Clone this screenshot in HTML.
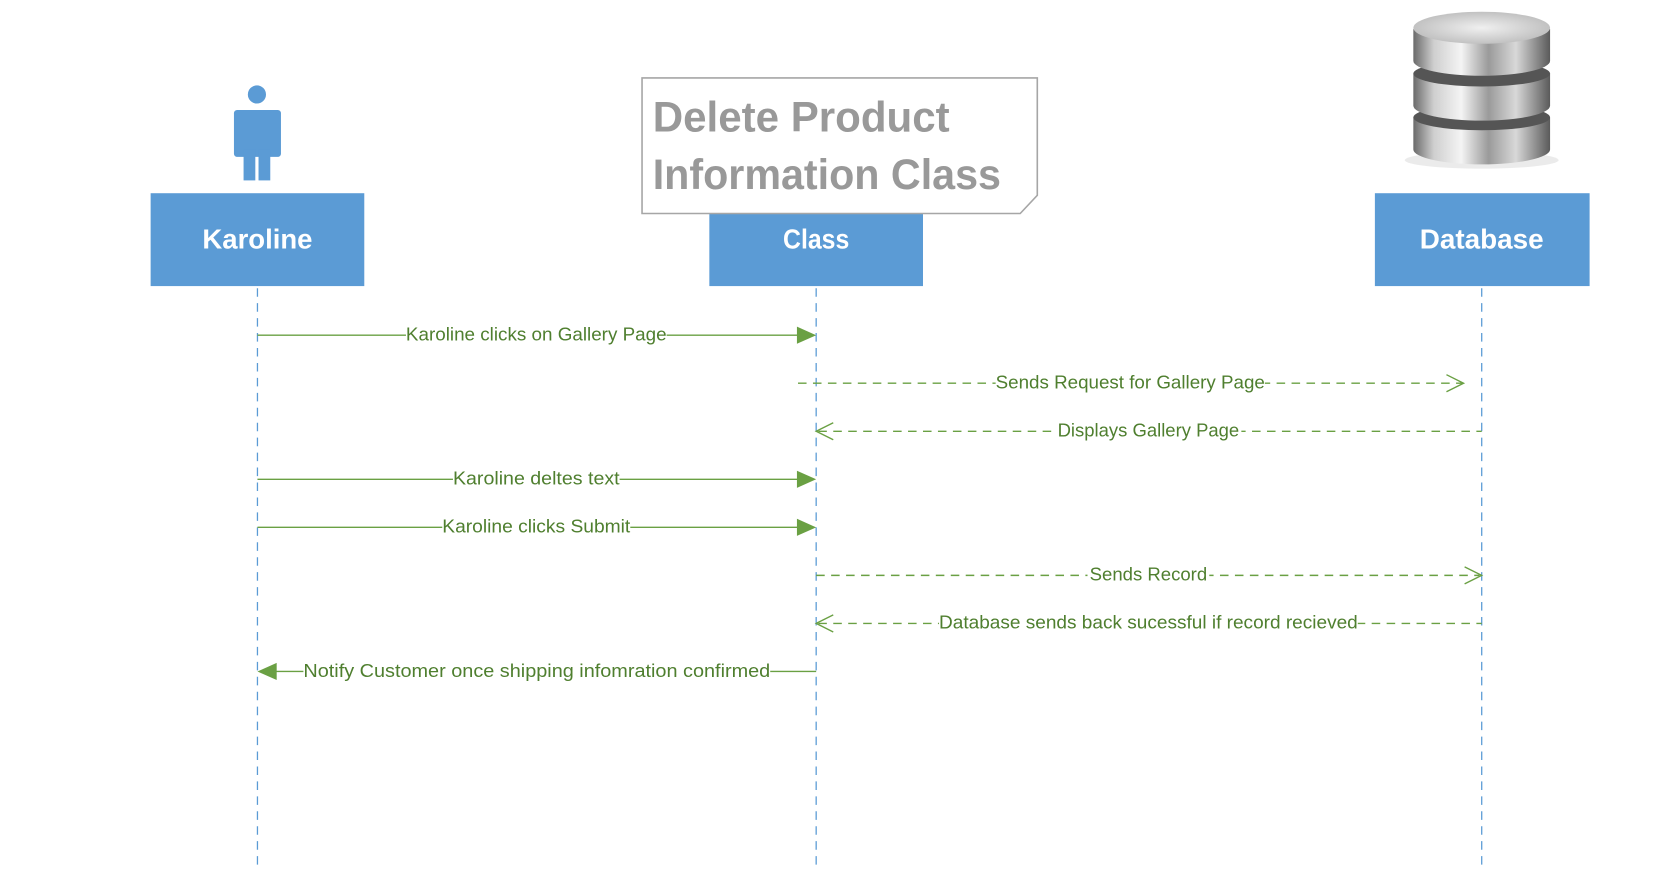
<!DOCTYPE html>
<html><head><meta charset="utf-8"><style>html,body{margin:0;padding:0;background:#fff;overflow:hidden}svg{display:block}</style></head><body>
<svg width="1674" height="870" viewBox="0 0 1567 815" preserveAspectRatio="none" xmlns="http://www.w3.org/2000/svg" font-family="Liberation Sans, sans-serif">
<defs>
<linearGradient id="cyl" x1="0" x2="1" y1="0" y2="0">
<stop offset="0" stop-color="#6a6a6a"/><stop offset="0.15" stop-color="#cfcfcf"/><stop offset="0.35" stop-color="#f4f4f4"/><stop offset="0.55" stop-color="#9a9a9a"/><stop offset="0.75" stop-color="#d8d8d8"/><stop offset="1" stop-color="#5a5a5a"/>
</linearGradient>
<radialGradient id="top" cx="0.5" cy="0.5" r="0.6"><stop offset="0" stop-color="#f0f0f0"/><stop offset="1" stop-color="#b8b8b8"/></radialGradient>
</defs>
<g stroke="#5b9bd5" stroke-width="1.2" stroke-dasharray="8,6">
<line x1="241" y1="270" x2="241" y2="815"/><line x1="764" y1="270" x2="764" y2="815"/><line x1="1387" y1="270" x2="1387" y2="815"/>
</g>
<g fill="#5b9bd5">
<circle cx="240.5" cy="88.5" r="8.5"/>
<rect x="219" y="103" width="44" height="44" rx="3"/>
<rect x="228" y="140" width="11" height="29"/><rect x="242" y="140" width="11" height="29"/>
</g>
<rect x="141" y="181" width="200" height="87" fill="#5b9bd5"/>
<rect x="664" y="181" width="200" height="87" fill="#5b9bd5"/>
<rect x="1287" y="181" width="201" height="87" fill="#5b9bd5"/>
<g fill="#fff" font-weight="bold" font-size="26" text-anchor="middle">
<text x="241" y="233" textLength="103" lengthAdjust="spacingAndGlyphs">Karoline</text>
<text x="764" y="233" textLength="62" lengthAdjust="spacingAndGlyphs">Class</text>
<text x="1387" y="233" textLength="116" lengthAdjust="spacingAndGlyphs">Database</text>
</g>
<path d="M601 73 H971 V183 L955 200 H601 Z" fill="#fff" stroke="#a6a6a6" stroke-width="1.5"/>
<g fill="#999" font-weight="bold" font-size="40">
<text x="611" y="123" textLength="278" lengthAdjust="spacingAndGlyphs">Delete Product</text>
<text x="611" y="177" textLength="326" lengthAdjust="spacingAndGlyphs">Information Class</text>
</g>
<g>
<ellipse cx="1387" cy="150" rx="72" ry="8" fill="#ddd" opacity="0.6"/>
<path d="M1323 110 V140 A64 14 0 0 0 1451 140 V110 Z" fill="url(#cyl)"/>
<ellipse cx="1387" cy="110" rx="64" ry="12" fill="#555"/>
<path d="M1323 69 V99 A64 14 0 0 0 1451 99 V69 Z" fill="url(#cyl)"/>
<ellipse cx="1387" cy="69" rx="64" ry="12" fill="#555"/>
<path d="M1323 27 V57 A64 14 0 0 0 1451 57 V27 Z" fill="url(#cyl)"/>
<ellipse cx="1387" cy="26" rx="64" ry="15" fill="url(#top)"/>
</g>
<g stroke="#6aa043" stroke-width="1.3" fill="none">
<line x1="241" y1="314" x2="750" y2="314"/>
<line x1="747" y1="359" x2="1370" y2="359" stroke-dasharray="8,6"/>
<polyline points="1354,351 1370,359 1354,367"/>
<line x1="766" y1="404" x2="1387" y2="404" stroke-dasharray="8,6"/>
<polyline points="780,396 764,404 780,412"/>
<line x1="241" y1="449" x2="750" y2="449"/>
<line x1="241" y1="494" x2="750" y2="494"/>
<line x1="764" y1="539" x2="1385" y2="539" stroke-dasharray="8,6"/>
<polyline points="1371,531 1387,539 1371,547"/>
<line x1="766" y1="584" x2="1387" y2="584" stroke-dasharray="8,6"/>
<polyline points="780,576 764,584 780,592"/>
<line x1="256" y1="629" x2="764" y2="629"/>
</g>
<g fill="#6aa043">
<polygon points="746,306 764,314 746,322"/>
<polygon points="746,441 764,449 746,457"/>
<polygon points="746,486 764,494 746,502"/>
<polygon points="259,621 241,629 259,637"/>
</g>
<g fill="#fff">
<rect x="380" y="304" width="244" height="20"/><rect x="932" y="349" width="252" height="20"/>
<rect x="988" y="394" width="174" height="20"/><rect x="424" y="439" width="156" height="20"/>
<rect x="414" y="484" width="176" height="20"/><rect x="1018" y="529" width="114" height="20"/>
<rect x="879" y="574" width="392" height="20"/><rect x="284" y="619" width="437" height="20"/>
</g>
<g fill="#4f7f2f" font-size="17">
<text x="380" y="319" textLength="244" lengthAdjust="spacingAndGlyphs">Karoline clicks on Gallery Page</text>
<text x="932" y="364" textLength="252" lengthAdjust="spacingAndGlyphs">Sends Request for Gallery Page</text>
<text x="990" y="409" textLength="170" lengthAdjust="spacingAndGlyphs">Displays Gallery Page</text>
<text x="424" y="454" textLength="156" lengthAdjust="spacingAndGlyphs">Karoline deltes text</text>
<text x="414" y="499" textLength="176" lengthAdjust="spacingAndGlyphs">Karoline clicks Submit</text>
<text x="1020" y="544" textLength="110" lengthAdjust="spacingAndGlyphs">Sends Record</text>
<text x="879" y="589" textLength="392" lengthAdjust="spacingAndGlyphs">Database sends back sucessful if record recieved</text>
<text x="284" y="634" textLength="437" lengthAdjust="spacingAndGlyphs">Notify Customer once shipping infomration confirmed</text>
</g>
</svg>
</body></html>
